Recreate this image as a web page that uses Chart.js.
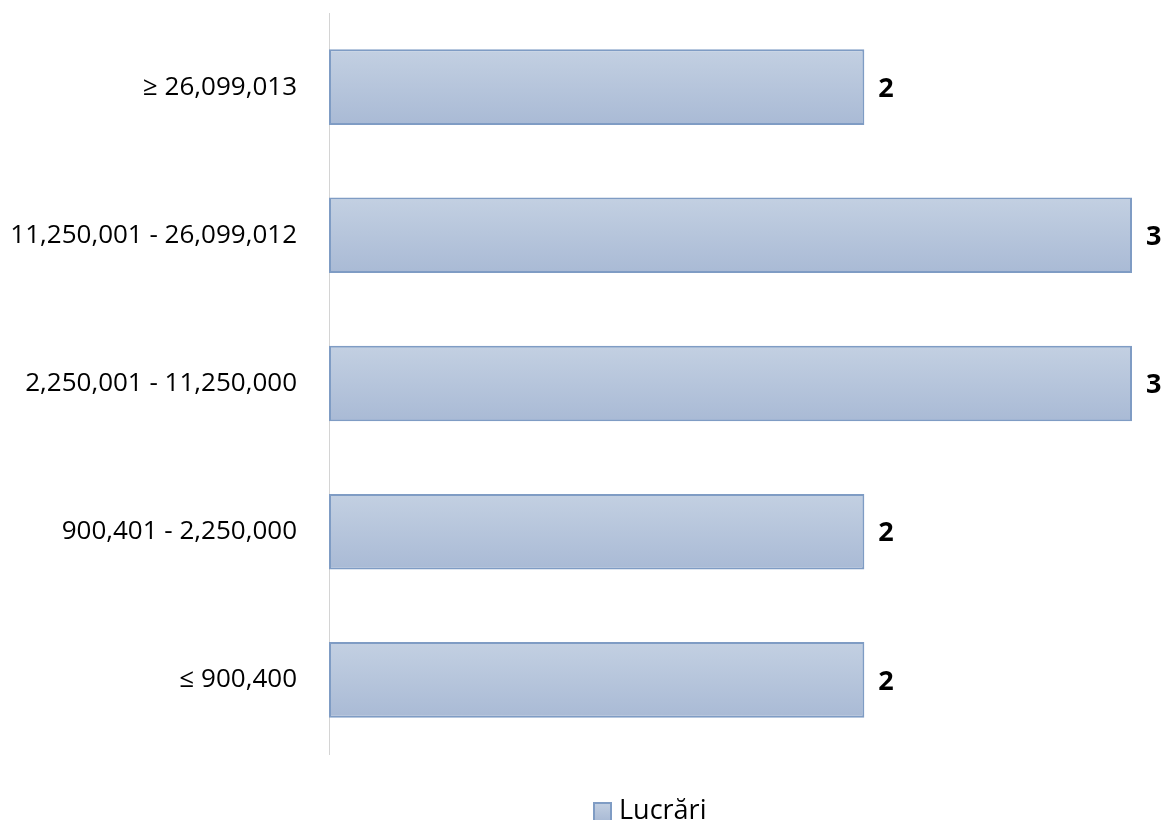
<!DOCTYPE html>
<html>
<head>
<meta charset="utf-8">
<script src="https://cdn.jsdelivr.net/npm/chart.js@4.4.1/dist/chart.umd.min.js"></script>
<style>
  html, body { margin: 0; padding: 0; background: #fff; }
  #wrap { width: 1166px; height: 820px; }
</style>
</head>
<body>
<div id="wrap"><canvas id="chart"></canvas></div>
<script>
const categories = ['≥ 26,099,013', '11,250,001 - 26,099,012', '2,250,001 - 11,250,000', '900,401 - 2,250,000', '≤ 900,400'];
const lucrari = [2, 3, 3, 2, 2];
const seriesName = 'Lucrări';

const FONT = "'Open Sans', 'Liberation Sans', sans-serif";

function barGradient(context) {
    const chart = context.chart;
    const area = chart.chartArea;
    if (!area || context.type !== 'data') return '#b4c4dc';
    const y = chart.scales.y;
    const step = (area.bottom - area.top) / categories.length;
    const h = step * 0.51;
    const yc = y.getPixelForValue(context.dataIndex);
    const g = chart.ctx.createLinearGradient(0, yc - h / 2, 0, yc + h / 2);
    g.addColorStop(0, '#c3d0e2');
    g.addColorStop(1, '#a9bad5');
    return g;
}

// value labels to the right of each bar
const valueLabels = {
    id: 'valueLabels',
    afterDatasetsDraw(chart) {
        const ctx = chart.ctx;
        const meta = chart.getDatasetMeta(0);
        ctx.save();
        ctx.font = "bold 27px " + FONT;
        ctx.fillStyle = '#000';
        ctx.textBaseline = 'middle';
        ctx.textAlign = 'left';
        meta.data.forEach((bar, i) => {
            ctx.fillText(String(lucrari[i]), bar.x + 14, bar.y + 2);
        });
        ctx.restore();
    }
};

// legend: single entry, right of centre, cut off by the bottom edge like the original
const bottomLegend = {
    id: 'bottomLegend',
    afterDraw(chart) {
        const ctx = chart.ctx;
        ctx.save();
        const g = ctx.createLinearGradient(0, 802, 0, 821);
        g.addColorStop(0, '#c3d0e2');
        g.addColorStop(1, '#a9bad5');
        ctx.fillStyle = g;
        ctx.fillRect(594, 803, 17, 18);
        ctx.strokeStyle = '#7f9cc4';
        ctx.lineWidth = 2;
        ctx.strokeRect(594, 803, 17, 18);
        ctx.font = "27px " + FONT;
        ctx.fillStyle = '#000';
        ctx.textBaseline = 'alphabetic';
        ctx.textAlign = 'left';
        ctx.fillText(seriesName, 619, 819);
        ctx.restore();
    }
};

new Chart(document.getElementById('chart'), {
    type: 'bar',
    data: {
        labels: categories,
        datasets: [{
            label: seriesName,
            data: lucrari,
            backgroundColor: barGradient,
            borderColor: '#7f9cc4',
            borderWidth: 2,
            borderSkipped: false,
            barPercentage: 0.51,
            categoryPercentage: 1.0
        }]
    },
    options: {
        indexAxis: 'y',
        responsive: true,
        maintainAspectRatio: false,
        animation: false,
        layout: { padding: { top: 13, right: 34, left: 0, bottom: 66 } },
        plugins: {
            legend: { display: false },
            tooltip: { enabled: false }
        },
        scales: {
            x: {
                display: false,
                min: 0,
                max: 3
            },
            y: {
                afterFit(scale) {
                    scale.width = 329;
                    scale.paddingTop = 0;
                    scale.paddingBottom = 0;
                },
                grid: { display: false },
                border: { display: true, color: '#d4d4d4', width: 1 },
                ticks: {
                    color: '#000',
                    padding: 24,
                    font: { family: FONT, size: 26 }
                }
            }
        }
    },
    plugins: [valueLabels, bottomLegend]
});
</script>
</body>
</html>
